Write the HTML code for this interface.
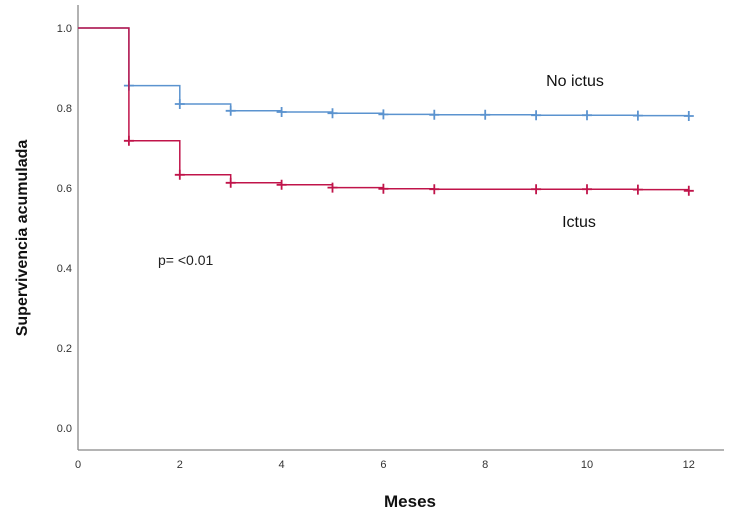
<!DOCTYPE html>
<html><head><meta charset="utf-8"><style>
body{margin:0;background:#fff;}
svg{display:block;font-family:"Liberation Sans",sans-serif;}
</style></head><body>
<svg id="chart" width="750" height="527" viewBox="0 0 750 527">
<rect width="750" height="527" fill="#fff"/>
<g id="axes"></g>
<g id="series"></g>
<text x="27" y="238" transform="rotate(-90 27 238)" text-anchor="middle" font-size="16" font-weight="bold" fill="#111">Supervivencia acumulada</text>
<text x="410" y="507" text-anchor="middle" font-size="17" font-weight="bold" fill="#111">Meses</text>
<text x="575" y="86" text-anchor="middle" font-size="16" fill="#111">No ictus</text>
<text x="579" y="227" text-anchor="middle" font-size="16" fill="#111">Ictus</text>
<text x="158" y="265" font-size="14" fill="#222">p= &lt;0.01</text>
</svg>
<script>
const xTicks=[0,2,4,6,8,10,12];
const yTicks=[0.0,0.2,0.4,0.6,0.8,1.0];
const months=[0,1,2,3,4,5,6,7,8,9,10,11,12];
const noIctus=[1.0,0.856,0.81,0.793,0.79,0.787,0.784,0.783,0.783,0.782,0.782,0.781,0.78];
const ictus=[1.0,0.718,0.633,0.613,0.608,0.601,0.598,0.597,0.597,0.597,0.597,0.596,0.593];
const noIctusCensor=[1,2,3,4,5,6,7,8,9,10,11,12];
const ictusCensor=[1,2,3,4,5,6,7,9,10,11,12];
const NS="http://www.w3.org/2000/svg";
const X=m=>78+m*50.9, Y=v=>428-v*400;
function mk(tag,attrs,parent){const e=document.createElementNS(NS,tag);for(const k in attrs)e.setAttribute(k,attrs[k]);parent.appendChild(e);return e;}
const ax=document.getElementById('axes'), se=document.getElementById('series');
let a=mk('line',{x1:78,y1:5,x2:78,y2:450,stroke:'#888','stroke-width':1.3},ax);


a=mk('line',{x1:78,y1:450,x2:724,y2:450,stroke:'#888','stroke-width':1.3},ax);


xTicks.forEach(t=>{const e=mk('text',{x:X(t),y:468,'text-anchor':'middle','font-size':11,fill:'#333'},ax);e.textContent=t;

});
yTicks.forEach(t=>{const e=mk('text',{x:72,y:Y(t)+4,'text-anchor':'end','font-size':11,fill:'#333'},ax);e.textContent=t.toFixed(1);

});
function draw(vals,cens,color,name){
  let d='M'+X(months[0])+' '+Y(vals[0]);
  for(let i=1;i<months.length;i++){d+=' H'+X(months[i])+' V'+Y(vals[i]);}
  const p=mk('path',{d:d,fill:'none',stroke:color,'stroke-width':1.5},se);
  
  
  cens.forEach(m=>{const i=months.indexOf(m);const cx=X(m),cy=Y(vals[i]);
    const c=mk('path',{d:`M${cx-5} ${cy} H${cx+5} M${cx} ${cy-5} V${cy+5}`,stroke:color,'stroke-width':1.8},se);
    
    });
}
draw(noIctus,noIctusCensor,'#5b93cf','no-ictus');
draw(ictus,ictusCensor,'#c0144a','ictus');
</script>
</body></html>
